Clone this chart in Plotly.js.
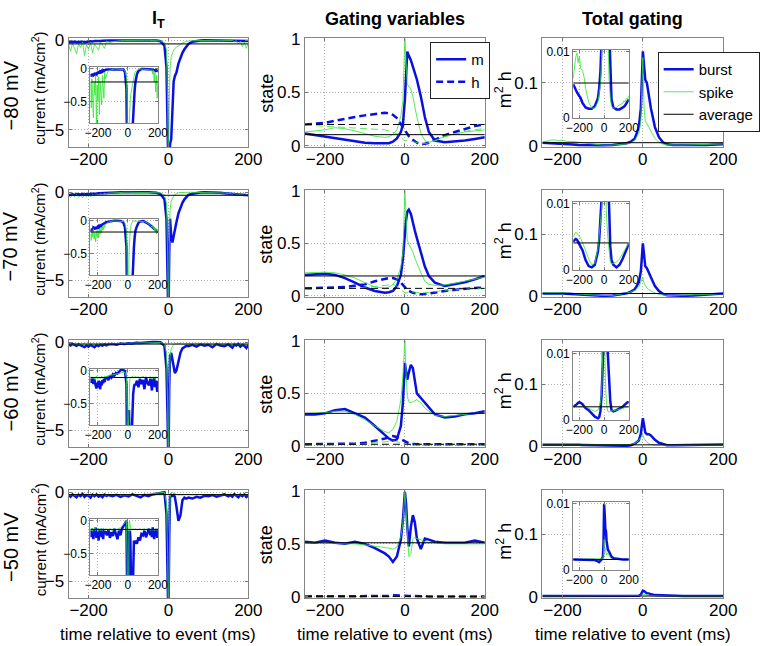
<!DOCTYPE html>
<html><head><meta charset="utf-8">
<script src="https://cdn.plot.ly/plotly-3.0.1.min.js"></script>
<style>html,body{margin:0;padding:0;background:#fff}#plot{width:760px;height:646px}</style>
</head><body><div id="plot"></div>
<script>
// ---------------- DATA ----------------
const T_SPAN = [-250, 200];
const T_CUR = [-250,-245,-240,-235,-230,-225,-220,-215,-210,-205,-200,-195,-190,-185,-180,-175,-170,-165,-160,-155,-150,
  -140,-130,-120,-110,-100,-90,-80,-70,-60,-50,-40,-30,
  -20,-10,-5,-2,0,2,4,7,10,13,16,20,25,30,35,40,45,50,
  60,70,80,90,100,110,120,130,140,150,
  155,160,165,170,175,180,185,190,195,200];

const CUR_BURST_M80 = [-0.12,-0.08,-0.11,-0.07,-0.1,-0.09,-0.06,-0.08,-0.1,-0.06,-0.06,-0.05,-0.07,-0.04,-0.05,-0.03,-0.04,-0.02,-0.03,-0.02,-0.015,
  -0.01,-0.01,-0.005,0,0,0,0,0,0,0,-0.005,-0.01,
  -0.05,-0.3,-1.5,-4.5,-7.5,-7.0,-5.8,-5.5,-4.0,-2.3,-2.0,-1.8,-1.3,-0.95,-0.7,-0.5,-0.32,-0.2,
  -0.08,-0.03,-0.01,0,0,0,0,-0.005,-0.01,-0.01,
  -0.01,-0.015,-0.01,-0.02,-0.015,-0.02,-0.03,-0.02,-0.03,-0.04];
const CUR_SPIKE_M80 = [-0.2,-0.6,-0.15,-0.45,-0.75,-0.2,-0.4,-0.1,-0.85,-0.25,-0.5,-0.12,-0.7,-0.2,-0.35,-0.55,-0.1,-0.3,-0.45,-0.05,-0.15,
  -0.08,-0.03,-0.02,-0.01,0,0,0,0,0,0,0,-0.01,
  -0.03,-0.12,-0.5,-3.5,-8,-3.5,-1.6,-0.9,-0.7,-0.55,-0.45,-0.38,-0.3,-0.22,-0.15,-0.1,-0.06,-0.04,
  -0.02,-0.01,0,0,0,0,0,0,-0.01,-0.02,
  -0.03,-0.01,-0.08,-0.02,-0.2,-0.05,-0.35,-0.1,-0.45,-0.15];
const CUR_BURST_M70 = [-0.17,-0.14,-0.12,-0.15,-0.1,-0.11,-0.13,-0.09,-0.12,-0.1,-0.12,-0.08,-0.09,-0.07,-0.08,-0.06,-0.05,-0.05,-0.04,-0.03,-0.025,
  -0.015,-0.01,0,0.005,0.005,0.005,0.005,0.005,0,0,-0.01,-0.025,
  -0.1,-0.4,-1.5,-4.5,-7.5,-3.5,-1.5,-2.5,-2.85,-2.5,-2.1,-1.7,-1.2,-0.85,-0.6,-0.4,-0.25,-0.15,
  -0.08,-0.03,-0.01,0,0,-0.01,-0.02,-0.03,-0.05,-0.07,
  -0.08,-0.09,-0.1,-0.11,-0.12,-0.13,-0.14,-0.15,-0.16,-0.17];
const CUR_SPIKE_M70 = [-0.2,-0.3,-0.15,-0.25,-0.12,-0.28,-0.18,-0.32,-0.15,-0.25,-0.14,-0.26,-0.12,-0.2,-0.1,-0.18,-0.08,-0.14,-0.06,-0.1,-0.05,
  -0.03,-0.02,-0.01,0,0,0,0,0,0,0,-0.01,-0.01,
  -0.03,-0.15,-0.6,-3.5,-8,-3.2,-1.0,-0.5,-0.3,-0.2,-0.13,-0.07,-0.03,-0.01,0,0,0,0,
  0,0,0,0,0,-0.01,-0.02,-0.03,-0.04,-0.06,
  -0.08,-0.1,-0.06,-0.12,-0.09,-0.16,-0.11,-0.2,-0.13,-0.18];
const CUR_BURST_M60 = [-0.12,-0.18,-0.1,-0.15,-0.2,-0.12,-0.17,-0.22,-0.27,-0.18,-0.25,-0.15,-0.2,-0.28,-0.16,-0.22,-0.14,-0.19,-0.12,-0.17,-0.11,
  -0.1,-0.14,-0.07,-0.1,-0.05,-0.07,-0.03,-0.04,-0.01,0.01,0.02,0.01,
  0,-0.2,-1.5,-4.5,-7.5,-2.5,-0.8,-0.6,-1.0,-1.5,-1.75,-1.6,-1.0,-0.6,-0.35,-0.25,-0.2,-0.22,
  -0.15,-0.25,-0.12,-0.2,-0.14,-0.28,-0.1,-0.18,-0.22,-0.12,
  -0.2,-0.3,-0.13,-0.18,-0.1,-0.25,-0.15,-0.2,-0.32,-0.15];
const CUR_SPIKE_M60 = [-0.08,-0.1,-0.12,-0.09,-0.11,-0.1,-0.13,-0.1,-0.08,-0.12,-0.1,-0.11,-0.09,-0.12,-0.1,-0.08,-0.1,-0.09,-0.11,-0.08,-0.09,
  -0.08,-0.07,-0.07,-0.06,-0.06,-0.05,-0.05,-0.04,-0.04,-0.03,-0.03,-0.02,
  -0.02,-0.1,-0.6,-3.5,-8,-3.0,-0.8,-0.35,-0.18,-0.12,-0.1,-0.09,-0.1,-0.08,-0.11,-0.09,-0.1,-0.08,
  -0.1,-0.09,-0.11,-0.1,-0.08,-0.1,-0.09,-0.11,-0.1,-0.09,
  -0.1,-0.12,-0.09,-0.11,-0.1,-0.12,-0.09,-0.11,-0.1,-0.12];
const CUR_BURST_M50 = [-0.15,-0.25,-0.12,-0.2,-0.28,-0.14,-0.22,-0.1,-0.26,-0.16,-0.2,-0.3,-0.14,-0.22,-0.12,-0.25,-0.18,-0.28,-0.13,-0.2,-0.16,
  -0.22,-0.14,-0.26,-0.17,-0.23,-0.12,-0.2,-0.28,-0.15,-0.22,-0.12,-0.08,
  -0.05,0,-1.2,-4.5,-7.5,-2.5,-0.3,-0.15,-0.2,-0.15,-0.25,-0.8,-1.6,-1.3,-0.45,-0.3,-0.35,-0.3,
  -0.35,-0.25,-0.3,-0.2,-0.22,-0.15,-0.25,-0.18,-0.12,-0.22,
  -0.15,-0.25,-0.1,-0.2,-0.28,-0.14,-0.22,-0.12,-0.26,-0.18];
const CUR_SPIKE_M50 = [-0.13,-0.15,-0.11,-0.16,-0.12,-0.14,-0.1,-0.15,-0.13,-0.12,-0.16,-0.11,-0.14,-0.13,-0.15,-0.12,-0.14,-0.11,-0.13,-0.15,-0.12,
  -0.13,-0.14,-0.12,-0.13,-0.15,-0.12,-0.14,-0.13,-0.12,-0.1,-0.08,-0.05,
  -0.03,0,-0.6,-3.5,-8,-3,-0.3,-0.05,0,-0.05,-0.1,-0.12,-0.14,-0.13,-0.12,-0.14,-0.13,-0.12,
  -0.14,-0.13,-0.12,-0.14,-0.13,-0.12,-0.14,-0.13,-0.12,-0.14,
  -0.13,-0.12,-0.14,-0.13,-0.15,-0.12,-0.13,-0.14,-0.12,-0.13];
const CUR_AVG = [-0.2, -0.17, -0.1, -0.13];

const T_GATE = [-250,-225,-200,-175,-150,-125,-100,-75,-50,-40,-30,-20,-10,-5,0,3,6,10,15,20,25,30,40,50,60,75,100,125,150,175,200];
const M_BURST_80 = [0.115,0.1,0.085,0.07,0.055,0.04,0.03,0.025,0.02,0.025,0.04,0.07,0.13,0.2,0.43,0.75,0.88,0.84,0.8,0.74,0.68,0.62,0.46,0.27,0.13,0.05,0.035,0.04,0.05,0.065,0.08];
const M_SPIKE_80 = [0.13,0.14,0.15,0.17,0.16,0.14,0.115,0.09,0.08,0.085,0.11,0.15,0.28,0.42,1.0,0.75,0.58,0.55,0.53,0.46,0.36,0.27,0.12,0.05,0.035,0.05,0.09,0.11,0.13,0.14,0.15];
const H_BURST_80 = [0.2,0.205,0.215,0.235,0.255,0.27,0.285,0.3,0.31,0.305,0.29,0.26,0.2,0.17,0.14,0.12,0.11,0.09,0.07,0.055,0.04,0.03,0.018,0.02,0.03,0.055,0.1,0.13,0.16,0.185,0.2];
const H_SPIKE_80 = [0.195,0.19,0.185,0.18,0.175,0.17,0.165,0.16,0.15,0.14,0.13,0.115,0.08,0.06,0.045,0.05,0.05,0.05,0.045,0.04,0.035,0.03,0.022,0.022,0.028,0.045,0.085,0.11,0.135,0.15,0.165];
const M_BURST_70 = [0.2,0.205,0.21,0.2,0.17,0.126,0.08,0.047,0.03,0.035,0.047,0.094,0.2,0.35,0.6,0.72,0.8,0.82,0.78,0.69,0.62,0.55,0.41,0.28,0.19,0.126,0.094,0.11,0.13,0.157,0.19];
const M_SPIKE_70 = [0.22,0.226,0.226,0.22,0.2,0.17,0.126,0.085,0.075,0.085,0.11,0.157,0.28,0.41,1.0,0.75,0.53,0.49,0.46,0.42,0.36,0.31,0.22,0.14,0.11,0.1,0.105,0.12,0.14,0.16,0.18];
const H_BURST_70 = [0.072,0.073,0.075,0.08,0.085,0.095,0.11,0.14,0.163,0.17,0.17,0.157,0.126,0.1,0.08,0.07,0.06,0.047,0.038,0.03,0.025,0.02,0.016,0.018,0.025,0.035,0.047,0.058,0.07,0.076,0.08];
const H_SPIKE_70 = [0.072,0.071,0.07,0.07,0.07,0.075,0.08,0.09,0.1,0.105,0.11,0.094,0.063,0.045,0.03,0.03,0.032,0.035,0.037,0.038,0.035,0.032,0.03,0.03,0.032,0.04,0.053,0.058,0.063,0.068,0.072];
const M_BURST_60 = [0.3,0.3,0.31,0.34,0.35,0.31,0.27,0.19,0.11,0.07,0.05,0.063,0.19,0.41,0.79,0.72,0.63,0.7,0.77,0.74,0.6,0.5,0.456,0.41,0.36,0.3,0.27,0.28,0.3,0.31,0.33];
const M_SPIKE_60 = [0.31,0.31,0.315,0.33,0.33,0.3,0.25,0.19,0.135,0.125,0.157,0.236,0.44,0.66,1.0,0.69,0.47,0.42,0.41,0.42,0.43,0.44,0.41,0.36,0.33,0.29,0.28,0.29,0.3,0.31,0.31];
const H_BURST_60 = [0.016,0.016,0.017,0.017,0.018,0.022,0.03,0.047,0.07,0.08,0.094,0.085,0.063,0.05,0.04,0.035,0.03,0.025,0.02,0.018,0.017,0.016,0.016,0.016,0.016,0.016,0.016,0.016,0.016,0.016,0.016];
const H_SPIKE_60 = [0.013,0.013,0.013,0.014,0.015,0.017,0.02,0.03,0.04,0.045,0.047,0.04,0.03,0.024,0.018,0.016,0.015,0.014,0.014,0.013,0.013,0.013,0.013,0.013,0.013,0.013,0.013,0.013,0.013,0.013,0.013];
const M_BURST_50 = [0.52,0.51,0.53,0.51,0.5,0.52,0.5,0.46,0.41,0.38,0.33,0.38,0.54,0.72,0.99,0.88,0.66,0.475,0.66,0.77,0.7,0.55,0.45,0.55,0.54,0.52,0.51,0.51,0.51,0.53,0.51];
const M_SPIKE_50 = [0.51,0.51,0.505,0.505,0.5,0.5,0.49,0.48,0.47,0.46,0.45,0.47,0.57,0.69,1.0,0.82,0.57,0.38,0.41,0.54,0.56,0.55,0.54,0.52,0.51,0.51,0.5,0.5,0.5,0.5,0.5];
const H_BURST_50 = [0.005,0.005,0.005,0.005,0.005,0.005,0.006,0.006,0.007,0.009,0.015,0.012,0.01,0.011,0.012,0.011,0.011,0.01,0.009,0.008,0.007,0.006,0.005,0.005,0.005,0.005,0.005,0.005,0.005,0.005,0.005];
const H_SPIKE_50 = [0.003,0.003,0.003,0.003,0.003,0.003,0.003,0.003,0.003,0.003,0.004,0.004,0.003,0.003,0.003,0.003,0.003,0.003,0.003,0.003,0.003,0.003,0.003,0.003,0.003,0.003,0.003,0.003,0.003,0.003,0.003];
const GATE_M_AVG = [0.105, 0.19, 0.31, 0.51];
const GATE_H_AVG = [0.2, 0.072, 0.016, 0.004];

const T_TOT = [-250,-240,-230,-220,-210,-200,-190,-175,-160,-150,-125,-100,-75,-50,-40,-30,-20,-10,-5,0,3,6,10,15,20,30,40,50,60,75,100,125,150,160,170,180,190,200];
const TOT_BURST_80 = [0.0051,0.0046,0.0042,0.0039,0.0036,0.0033,0.003,0.0023,0.0018,0.0016, 0.0014,0.0014,0.0018,0.003,0.0045,0.007,0.012,0.03,0.06, 0.15,0.125,0.105,0.1,0.08,0.06,0.03,0.014,0.006,0.0028,0.0016, 0.0013,0.0013,0.0015,0.0017,0.0019,0.0022,0.0025,0.0028];
const TOT_SPIKE_80 = [0.006,0.0078,0.0092,0.0098,0.0084,0.0094,0.0075,0.0072,0.006,0.0045, 0.0024,0.0015,0.0015,0.0024,0.0035,0.005,0.009,0.02,0.04, 0.14,0.06,0.04,0.035,0.03,0.022,0.012,0.006,0.003,0.0018,0.0015, 0.0016,0.002,0.0022,0.0026,0.0024,0.003,0.0028,0.0034];
const TOT_BURST_70 = [0.0043,0.0045,0.0047,0.0046,0.0042,0.004,0.0036,0.003,0.0021,0.0015, 0.0006,0.0004,0.0008,0.0028,0.0045,0.0072,0.011,0.022,0.04, 0.085,0.06,0.048,0.045,0.038,0.03,0.016,0.008,0.0035,0.0015,0.0008, 0.0004,0.0008,0.0017,0.0021,0.0026,0.003,0.0035,0.004];
const TOT_SPIKE_70 = [0.005,0.0055,0.0057,0.0056,0.0053,0.0052,0.0048,0.0042,0.0034,0.003, 0.0017,0.0008,0.001,0.0033,0.005,0.0068,0.0092,0.015,0.022, 0.03,0.02,0.016,0.013,0.01,0.008,0.005,0.0027,0.0012,0.0009,0.001, 0.0012,0.0017,0.0025,0.0028,0.0031,0.0034,0.0038,0.0041];
const TOT_BURST_60 = [0.002,0.0021,0.0022,0.0024,0.0026,0.0027,0.0026,0.0024,0.002,0.0018, 0.0015,0.001,0.0005,0.00025,0.0004,0.0013,0.0038,0.009,0.02, 0.045,0.03,0.022,0.019,0.019,0.017,0.01,0.0053,0.0028,0.0015,0.0013, 0.0015,0.0017,0.002,0.0022,0.0024,0.0025,0.0027,0.0027];
const TOT_SPIKE_60 = [0.002,0.002,0.002,0.0021,0.002,0.002,0.002,0.002,0.002,0.002, 0.0018,0.0015,0.0013,0.0015,0.002,0.0025,0.0043,0.009,0.014, 0.019,0.012,0.009,0.0063,0.004,0.0023,0.0013,0.0012,0.0013,0.0014,0.0014, 0.0015,0.0017,0.0018,0.0018,0.0019,0.0019,0.002,0.002];
const TOT_BURST_50 = [0.0016,0.0016,0.0016,0.0016,0.0016,0.0016,0.0016,0.0016,0.0016,0.0016, 0.0016,0.0016,0.0015,0.0013,0.0012,0.0014,0.0016,0.002,0.004, 0.01,0.0095,0.008,0.0062,0.0059,0.0044,0.0031,0.0028,0.0023,0.002,0.0018, 0.0017,0.0016,0.0016,0.0016,0.0016,0.0016,0.0016,0.0016];
const TOT_SPIKE_50 = [0.0016,0.0016,0.0016,0.0016,0.0016,0.0016,0.0016,0.0016,0.0016,0.0016, 0.0016,0.0016,0.0016,0.0016,0.0016,0.0016,0.0016,0.0017,0.0026, 0.0046,0.0042,0.0035,0.003,0.0026,0.0023,0.0026,0.0022,0.0019,0.0017,0.0016, 0.0016,0.0016,0.0016,0.0016,0.0016,0.0016,0.0016,0.0016];
const TOT_AVG = [0.0053, 0.0041, 0.002, 0.0016];

// tick labels and texts
const X_TICKVALS = [-200, 0, 200];
const X_TICKTEXT = ['\u2212200', '0', '200'];
const CUR_TICKVALS = [-5, 0];
const CUR_TICKTEXT = ['\u22125', '0'];
const CUR_IN_TICKVALS = [-0.5, 0];
const CUR_IN_TICKTEXT = ['\u22120.5', '0'];
const GATE_TICKVALS = [0, 0.5, 1];
const GATE_TICKTEXT = ['0', '0.5', '1'];
const TOT_TICKVALS = [0, 0.1];
const TOT_TICKTEXT = ['0', '0.1'];
const TOT_IN_TICKVALS = [0, 0.01];
const TOT_IN_TICKTEXT = ['0', '0.01'];
const ROW_LABELS = ['\u221280 mV', '\u221270 mV', '\u221260 mV', '\u221250 mV'];
const COL_TITLES = ['<b>I<sub>T</sub></b>', '<b>Gating variables</b>', '<b>Total gating</b>'];
const Y_LABELS = ['current (mA/cm<sup>2</sup>)', 'state', 'm<sup>2</sup> h'];
const X_LABEL = 'time relative to event (ms)';
const LEG_NAMES = ['burst', 'spike', 'average'];
const GATE_LEG_NAMES = ['m', 'h'];

// ---------------- STYLE / LAYOUT ----------------
const W = 760, H = 646;
const FONT = 'Liberation Sans, Arial, Helvetica, sans-serif';
const BLUE = 'rgb(10,16,225)';
const GREEN = 'rgb(45,230,45)';
const GOP = 0.8;
const BLACK = '#000';
const DASH = '7px,4px';

const COLX = [[69,250],[307,488],[546,728]];
const ROWY = [[38,147],[190,297],[340,447],[490,598]];
const IN1X = [91,159], IN1Y = [29,85];
const IN3X = [577,633], IN3Y = [12,80];

const CUR_RANGE = [-5.95, 0.13], CUR_IN_RANGE = [-0.83, 0.03];
const GATE_RANGE = [-0.01, 1.007];
const TOT_RANGE = [-0.0015, 0.171], TOT_IN_RANGE = [0, 0.0103];
const X_RANGE = [-250, 200];

const layout = {
  width: W, height: H, margin: {l:0, r:0, t:0, b:0},
  paper_bgcolor: '#fff', plot_bgcolor: '#fff',
  font: {family: FONT, size: 17, color: '#000'},
  showlegend: true, annotations: [],
  legend: {x: 662/W, y: 1-52/H, xanchor: 'left', yanchor: 'top', bgcolor: '#fff', bordercolor: '#222', borderwidth: 1,
           font: {family: FONT, size: 15, color: '#000'}, tracegroupgap: 0, itemclick: false, itemdoubleclick: false},
  legend2: {x: 433/W, y: 1-42/H, xanchor: 'left', yanchor: 'top', bgcolor: '#fff', bordercolor: '#222', borderwidth: 1,
           font: {family: FONT, size: 15, color: '#000'}, tracegroupgap: 0, itemclick: false, itemdoubleclick: false}
};

function axisDef(domain, range, tv, tt, fs, anchor, standoff) {
  return {domain, range, anchor, tickmode: 'array', tickvals: tv, ticktext: tt,
    ticks: 'inside', ticklen: 3, tickcolor: '#777', showline: true, linecolor: '#858585', linewidth: 1,
    mirror: 'ticks', showgrid: true, gridcolor: '#b0b0b0', griddash: '1px,2px', gridwidth: 1,
    zeroline: false, tickfont: {family: FONT, size: fs, color: '#000'}, fixedrange: true, automargin: false,
    ticklabelstandoff: standoff || 0};
}
function setAxes(n, xpx, ypx, yr, ytv, ytt, fs, xso) {
  const s = n === 1 ? '' : String(n);
  layout['xaxis' + s] = axisDef([xpx[0]/W, xpx[1]/W], X_RANGE, X_TICKVALS, X_TICKTEXT, fs, 'y' + s, xso);
  layout['yaxis' + s] = axisDef([1 - ypx[1]/H, 1 - ypx[0]/H], yr, ytv, ytt, fs, 'x' + s, 0);
}

const traces = [];
function L(x, y, n, color, width, dash, opacity, extra) {
  const s = n === 1 ? '' : String(n);
  return Object.assign({type: 'scatter', mode: 'lines', x, y, xaxis: 'x' + s, yaxis: 'y' + s,
    line: {color, width, dash: dash || 'solid'}, opacity: opacity == null ? 1 : opacity,
    showlegend: false, hoverinfo: 'skip'}, extra || {});
}

const CUR_BURST = [CUR_BURST_M80, CUR_BURST_M70, CUR_BURST_M60, CUR_BURST_M50];
const CUR_SPIKE = [CUR_SPIKE_M80, CUR_SPIKE_M70, CUR_SPIKE_M60, CUR_SPIKE_M50];
const M_BURST = [M_BURST_80, M_BURST_70, M_BURST_60, M_BURST_50];
const M_SPIKE = [M_SPIKE_80, M_SPIKE_70, M_SPIKE_60, M_SPIKE_50];
const H_BURST = [H_BURST_80, H_BURST_70, H_BURST_60, H_BURST_50];
const H_SPIKE = [H_SPIKE_80, H_SPIKE_70, H_SPIKE_60, H_SPIKE_50];
const TOT_BURST = [TOT_BURST_80, TOT_BURST_70, TOT_BURST_60, TOT_BURST_50];
const TOT_SPIKE = [TOT_SPIKE_80, TOT_SPIKE_70, TOT_SPIKE_60, TOT_SPIKE_50];

function ann(text, px, py, size, angle) {
  layout.annotations.push({text, x: px/W, y: 1 - py/H, xref: 'paper', yref: 'paper', xanchor: 'center', yanchor: 'middle',
    showarrow: false, textangle: angle || 0, font: {family: FONT, size, color: '#000'}});
}

for (let r = 0; r < 4; r++) {
  const ry = ROWY[r];
  const n1 = r*3 + 1, n2 = r*3 + 2, n3 = r*3 + 3, ni1 = 13 + r, ni3 = 17 + r;
  setAxes(n1, COLX[0], ry, CUR_RANGE, CUR_TICKVALS, CUR_TICKTEXT, 17, -3);
  setAxes(n2, COLX[1], ry, GATE_RANGE, GATE_TICKVALS, GATE_TICKTEXT, 17, -3);
  setAxes(n3, COLX[2], ry, TOT_RANGE, TOT_TICKVALS, TOT_TICKTEXT, 17, -3);
  setAxes(ni1, IN1X, [ry[0] + IN1Y[0], ry[0] + IN1Y[1]], CUR_IN_RANGE, CUR_IN_TICKVALS, CUR_IN_TICKTEXT, 12, -1);
  setAxes(ni3, IN3X, [ry[0] + IN3Y[0], ry[0] + IN3Y[1]], TOT_IN_RANGE, TOT_IN_TICKVALS, TOT_IN_TICKTEXT, 12, -1);

  // column 1: current
  [n1, ni1].forEach(n => {
    traces.push(L(T_CUR, CUR_BURST[r], n, BLUE, 2.5));
    traces.push(L(T_CUR, CUR_SPIKE[r], n, GREEN, 1, null, GOP));
    traces.push(L(T_SPAN, [CUR_AVG[r], CUR_AVG[r]], n, BLACK, 1));
  });
  // column 2: gating variables
  traces.push(L(T_GATE, M_BURST[r], n2, BLUE, 2.5, null, 1, r === 0 ? {name: GATE_LEG_NAMES[0], showlegend: true, legend: 'legend2'} : {}));
  traces.push(L(T_GATE, H_BURST[r], n2, BLUE, 2.5, DASH, 1, r === 0 ? {name: GATE_LEG_NAMES[1], showlegend: true, legend: 'legend2'} : {}));
  traces.push(L(T_GATE, M_SPIKE[r], n2, GREEN, 1, null, GOP));
  traces.push(L(T_GATE, H_SPIKE[r], n2, GREEN, 1, DASH, GOP));
  traces.push(L(T_SPAN, [GATE_M_AVG[r], GATE_M_AVG[r]], n2, BLACK, 1));
  traces.push(L(T_SPAN, [GATE_H_AVG[r], GATE_H_AVG[r]], n2, BLACK, 1, DASH));
  // column 3: total gating
  [n3, ni3].forEach(n => {
    const leg = (n === 3);
    traces.push(L(T_TOT, TOT_BURST[r], n, BLUE, 2.5, null, 1, leg ? {name: LEG_NAMES[0], showlegend: true, legend: 'legend'} : {}));
    traces.push(L(T_TOT, TOT_SPIKE[r], n, GREEN, 1, null, GOP, leg ? {name: LEG_NAMES[1], showlegend: true, legend: 'legend'} : {}));
    traces.push(L(T_SPAN, [TOT_AVG[r], TOT_AVG[r]], n, BLACK, 1, null, 1, leg ? {name: LEG_NAMES[2], showlegend: true, legend: 'legend'} : {}));
  });

  const rc = (ry[0] + ry[1]) / 2;
  ann(ROW_LABELS[r], 11, rc + 3, 20, -90);
  ann(Y_LABELS[0], 38.5, rc - 4, 15, -90);
  ann(Y_LABELS[1], 268, rc + 1, 18, -90);
  ann(Y_LABELS[2], 507, rc - 3, 18, -90);
}
const COLC = COLX.map(c => (c[0] + c[1]) / 2);
COL_TITLES.forEach((t, i) => ann(t, COLC[i], 19, 18, 0));
COLC.forEach(c => ann(X_LABEL, c, 634, 17, 0));

Plotly.newPlot('plot', traces, layout, {staticPlot: true, displayModeBar: false});
</script>
</body></html>
